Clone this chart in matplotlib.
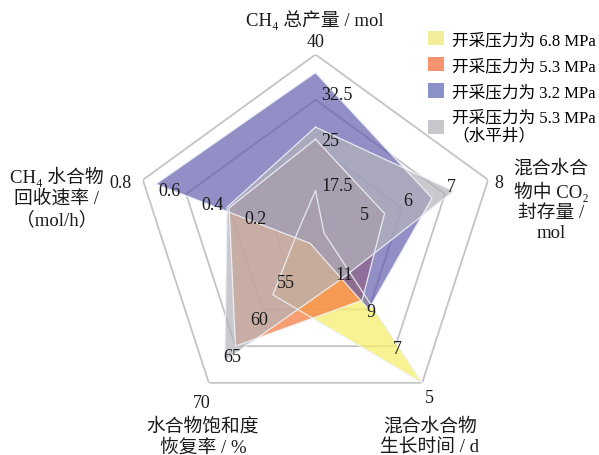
import numpy as np
import matplotlib
matplotlib.use("Agg")
import matplotlib.pyplot as plt
from matplotlib.patches import Patch

# ---- data -------------------------------------------------------------
axis_titles = [
    "CH₄ 总产量 / mol",
    "混合水合\n物中 CO₂\n封存量 /\nmol",
    "混合水合物\n生长时间 / d",
    "水合物饱和度\n恢复率 / %",
    "CH₄ 水合物\n回收速率 /\n（mol/h）",
]
axis_min = [10.0, 4.0, 13.0, 50.0, 0.0]
axis_max = [40.0, 8.0, 5.0, 70.0, 0.8]
tick_labels = [
    ["17.5", "25", "32.5", "40"],
    ["5", "6", "7", "8"],
    ["11", "9", "7", "5"],
    ["55", "60", "65", "70"],
    ["0.2", "0.4", "0.6", "0.8"],
]

series_names = [
    "开采压力为 6.8 MPa",
    "开采压力为 5.3 MPa",
    "开采压力为 3.2 MPa",
    "开采压力为 5.3 MPa\n（水平井）",
]
p68 = [17.5, 4.2, 5.0, 58.0, 0.08]
p53 = [26.0, 5.6, 9.5, 65.0, 0.40]
p32 = [37.0, 6.7, 9.0, 51.0, 0.74]
p53_h = [28.0, 7.2, 10.8, 67.0, 0.41]

# ---- style ------------------------------------------------------------
fam = ["Liberation Serif", "Noto Sans CJK SC", "DejaVu Serif"]
plt.rcParams["font.family"] = fam

fills = ["#F7EE6E", "#F57A3C", "#5E58AC", "#B4B4BA"]
alphas = [0.75, 0.72, 0.68, 0.70]
legend_cols = ["#F3EE9A", "#F4936E", "#8A91C8", "#C6C7CA"]

n = len(axis_titles)
theta = np.arange(n) * 2 * np.pi / n


def scaled(values):
    v = np.asarray(values, float)
    lo = np.asarray(axis_min)
    hi = np.asarray(axis_max)
    return (v - lo) / (hi - lo)


W, H = 599, 456
fig = plt.figure(figsize=(W / 100, H / 100), dpi=100)
cx, cy, R = 315.5, 237.0, 181.5
ax = fig.add_axes([(cx - R) / W, (H - cy - R) / H, 2 * R / W, 2 * R / H],
                  projection="polar")
ax.set_theta_zero_location("N")
ax.set_theta_direction(-1)
ax.set_ylim(0, 1)
ax.grid(False)
ax.set_xticks([])
ax.set_yticks([])
ax.spines["polar"].set_visible(False)
ax.patch.set_alpha(0)

tc = np.append(theta, theta[0])

# pentagon grid rings
for f in (0.25, 0.5, 0.75, 1.0):
    ax.plot(tc, [f] * (n + 1), color="#C4C4C4", lw=1.3, zorder=1)

# series polygons
for vals, c, a in zip([p68, p53, p32, p53_h], fills, alphas):
    r = scaled(vals)
    rc = np.append(r, r[0])
    ax.fill(tc, rc, facecolor=c, alpha=a, edgecolor="none", zorder=2)
    ax.plot(tc, rc, color="#EEF2F8", lw=0.9, alpha=0.9, zorder=3)

# tick labels along each spoke
inner_off = [(6, 5), (6, 7), (2, -2), (-3, -10), (-17, 3)]
inner_ha = ["left", "center", "center", "center", "center"]
outer_off = [(0, 13), (11, -3), (7, -15), (-7, -20), (-22, -3)]
fracs = [0.25, 0.5, 0.75, 1.0]
for k in range(n):
    for j, lab in enumerate(tick_labels[k]):
        if j < 3:
            off, ha = inner_off[k], inner_ha[k]
        else:
            off, ha = outer_off[k], "center"
        ax.annotate(lab, xy=(theta[k], fracs[j]), xytext=off,
                    textcoords="offset pixels", ha=ha, va="center",
                    fontsize=13, color="#1a1a1a", zorder=5,
                    annotation_clip=False)

# axis titles
title_pos = [(315, 20), (551, 201), (430, 437), (203, 437), (57, 198)]
for txt, (x, y) in zip(axis_titles, title_pos):
    fig.text(x / W, 1 - y / H, txt, ha="center", va="center",
             fontsize=13.5, color="#1a1a1a", linespacing=1.25,
             multialignment="center")

handles = [Patch(facecolor=c, edgecolor="none") for c in legend_cols]
fig.legend(handles, series_names, loc="upper left",
           bbox_to_anchor=(428 / W, 1 - 32 / H), frameon=False,
           fontsize=12, handlelength=0.95, handleheight=0.95,
           handletextpad=0.5, labelspacing=0.55, borderaxespad=0,
           borderpad=0)

fig.savefig("out.png", dpi=100)
